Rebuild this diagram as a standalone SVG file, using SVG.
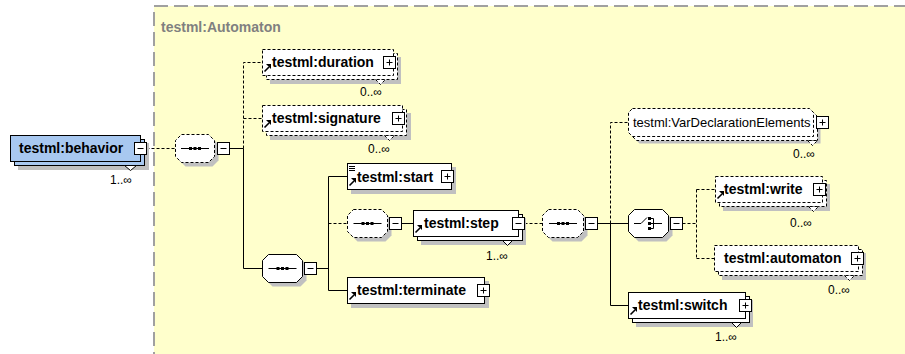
<svg xmlns="http://www.w3.org/2000/svg" xmlns:xlink="http://www.w3.org/1999/xlink" width="905" height="354" viewBox="0 0 905 354">
<style>
.bg{fill:#FFFFCC;stroke:#A0A0A0;stroke-width:2;stroke-dasharray:14,6}
.box{fill:#fff;stroke:#000;stroke-width:1}
.blue{fill:#A8C8F0}
.dash{stroke-dasharray:3,2}
.sh{fill:#C0C0C0;stroke:none}
.lbl{font-family:"Liberation Sans",Arial,sans-serif;font-weight:bold;font-size:14px;fill:#000}
.grp{font-family:"Liberation Sans",Arial,sans-serif;font-size:13px;fill:#000}
.occ{font-family:"Liberation Sans",Arial,sans-serif;font-size:12px;fill:#000}
.ttl{font-family:"Liberation Sans",Arial,sans-serif;font-weight:bold;font-size:14px;fill:#808080}
.pm{fill:none;stroke:#000;stroke-width:1}
.notch{fill:#fff;stroke:#000;stroke-width:1}
.ln{fill:none;stroke:#000;stroke-width:1}
.dl{stroke-dasharray:3,2}
</style>
<defs>
<g id="arr"><path d="M0.5,7.5 L5,3" fill="none" stroke="#000" stroke-width="1.6"/><polygon points="2,0 7,0 7,5" fill="#000"/></g>
<g id="plus"><rect class="box" x="0" y="0" width="12" height="12"/><path class="pm" d="M3,6 H9 M6,3 V9"/></g>
<g id="minus"><rect class="box" x="0" y="0" width="12" height="12"/><path class="pm" d="M3,6 H9"/></g>
<g id="seqicon"><path class="pm" d="M-14,0 H14"/><rect x="-6" y="-1.5" width="3" height="3" fill="#000"/><rect x="-1.5" y="-1.5" width="3" height="3" fill="#000"/><rect x="3" y="-1.5" width="3" height="3" fill="#000"/></g>
</defs>

<rect class="bg" x="154" y="6" width="780" height="380"/>
<text class="ttl" x="161" y="32">testml:Automaton</text>

<g id="connectors">
<path class="ln dl" d="M146.5,148.5 H175.5"/>
<path class="ln" d="M229.5,148.5 H243.5"/>
<path class="ln dl" d="M243.5,148.5 V62.5 H262.5 M243.5,118.5 H262.5"/>
<path class="ln" d="M243.5,148.5 V268.5 H262.5"/>
<path class="ln" d="M316.5,268.5 H328.5 M328.5,176.5 V290.5 M328.5,176.5 H347.5 M328.5,290.5 H347.5"/>
<path class="ln dl" d="M328.5,223.5 H347.5"/>
<path class="ln" d="M401.5,223.5 H413.5"/>
<path class="ln dl" d="M524.5,223.5 H542.5"/>
<path class="ln" d="M597.5,223.5 H628.5 M610.5,223.5 V305.5 H628.5"/>
<path class="ln dl" d="M610.5,223.5 V122.5 H628.5"/>
<path class="ln dl" d="M682.5,223.5 H696.5 M696.5,189.5 V258.5 M696.5,189.5 H715.5 M696.5,258.5 H714.5"/>
</g>

<g id="behavior">
<rect class="sh" x="18" y="143" width="131" height="27"/>
<rect class="box blue" x="14.5" y="139.5" width="130" height="26"/>
<rect class="box blue" x="10.5" y="135.5" width="130" height="26"/>
<polygon class="notch" points="124.5,165.5 130.5,170.5 136.5,165.5"/>
<text class="lbl" x="19" y="153">testml:behavior</text>
<use xlink:href="#minus" x="134.5" y="142.5"/>
<text class="occ" x="110" y="184">1..∞</text>
</g>

<g id="seq1">
<path class="sh" d="M185.5,138.5 H212.5 L218.5,144.5 V160.5 L212.5,166.5 H185.5 L179.5,160.5 V144.5 Z"/>
<path class="box dash" d="M181.5,134.5 H208.5 L214.5,140.5 V156.5 L208.5,162.5 H181.5 L175.5,156.5 V140.5 Z"/>
<use xlink:href="#seqicon" x="195" y="148.5"/>
<use xlink:href="#minus" x="217.5" y="142.5"/>
</g>

<g id="duration">
<rect class="sh" x="270" y="57" width="131" height="27"/>
<rect class="box dash" x="266.5" y="53.5" width="131" height="26"/>
<rect class="box dash" x="262.5" y="49.5" width="131" height="26"/>
<polygon class="notch dash" points="375.5,79.5 380.5,84.5 385.5,79.5"/>
<use xlink:href="#arr" x="264" y="64"/>
<text class="lbl" x="272" y="67">testml:duration</text>
<use xlink:href="#plus" x="383.5" y="56.5"/>
<text class="occ" x="360" y="96">0..∞</text>
</g>

<g id="signature">
<rect class="sh" x="270" y="113" width="141" height="27"/>
<rect class="box dash" x="266.5" y="109.5" width="140" height="26"/>
<rect class="box dash" x="262.5" y="105.5" width="140" height="26"/>
<polygon class="notch dash" points="384.5,135.5 389.5,140.5 394.5,135.5"/>
<use xlink:href="#arr" x="264" y="120"/>
<text class="lbl" x="272" y="123">testml:signature</text>
<use xlink:href="#plus" x="392.5" y="112.5"/>
<text class="occ" x="368" y="153">0..∞</text>
</g>

<g id="seq2">
<path class="sh" d="M272.5,258.5 H300.5 L306.5,264.5 V280.5 L300.5,286.5 H272.5 L266.5,280.5 V264.5 Z"/>
<path class="box" d="M268.5,254.5 H296.5 L302.5,260.5 V276.5 L296.5,282.5 H268.5 L262.5,276.5 V260.5 Z"/>
<use xlink:href="#seqicon" x="282.5" y="268.5"/>
<use xlink:href="#minus" x="304.5" y="262.5"/>
</g>

<g id="start">
<rect class="sh" x="351" y="167" width="105" height="27"/>
<rect class="box" x="347.5" y="163.5" width="104" height="26"/>
<path class="pm" d="M349,166.5 H355 M349,168.5 H355 M349,170.5 H355"/>
<use xlink:href="#arr" x="349" y="178"/>
<text class="lbl" x="357" y="182">testml:start</text>
<use xlink:href="#plus" x="441.5" y="170.5"/>
</g>

<g id="seqStep">
<path class="sh" d="M357.5,213.5 H385.5 L391.5,219.5 V235.5 L385.5,241.5 H357.5 L351.5,235.5 V219.5 Z"/>
<path class="box dash" d="M353.5,209.5 H381.5 L387.5,215.5 V231.5 L381.5,237.5 H353.5 L347.5,231.5 V215.5 Z"/>
<use xlink:href="#seqicon" x="367.5" y="223.5"/>
<use xlink:href="#minus" x="389.5" y="217.5"/>
</g>

<g id="step">
<rect class="sh" x="421" y="218" width="105" height="27"/>
<rect class="box" x="417.5" y="214.5" width="105" height="26"/>
<rect class="box" x="413.5" y="210.5" width="105" height="26"/>
<polygon class="notch" points="502.5,240.5 507.5,245.5 512.5,240.5"/>
<use xlink:href="#arr" x="415" y="225"/>
<text class="lbl" x="424" y="228">testml:step</text>
<use xlink:href="#minus" x="512.5" y="217.5"/>
<text class="occ" x="486" y="260">1..∞</text>
</g>

<g id="terminate">
<rect class="sh" x="351" y="281" width="138" height="27"/>
<rect class="box" x="347.5" y="277.5" width="137" height="26"/>
<use xlink:href="#arr" x="349" y="292"/>
<text class="lbl" x="357" y="295">testml:terminate</text>
<use xlink:href="#plus" x="477.5" y="284.5"/>
</g>

<g id="seq3">
<path class="sh" d="M552.5,213.5 H581.5 L587.5,219.5 V235.5 L581.5,241.5 H552.5 L546.5,235.5 V219.5 Z"/>
<path class="box dash" d="M548.5,209.5 H577.5 L583.5,215.5 V231.5 L577.5,237.5 H548.5 L542.5,231.5 V215.5 Z"/>
<use xlink:href="#seqicon" x="563" y="223.5"/>
<use xlink:href="#minus" x="585.5" y="217.5"/>
</g>

<g id="choice">
<path class="sh" d="M638.5,213.5 H666.5 L672.5,219.5 V235.5 L666.5,241.5 H638.5 L632.5,235.5 V219.5 Z"/>
<path class="box" d="M634.5,209.5 H662.5 L668.5,215.5 V231.5 L662.5,237.5 H634.5 L628.5,231.5 V215.5 Z"/>
<path class="pm" d="M634,223.5 H641 L647,217.5 M650,218.5 H653.5 V228.5 H650 M650,223.5 H662"/>
<rect x="648" y="217" width="3" height="3" fill="#000"/>
<rect x="648" y="222" width="3" height="3" fill="#000"/>
<rect x="648" y="227" width="3" height="3" fill="#000"/>
<use xlink:href="#minus" x="670.5" y="217.5"/>
</g>

<g id="varDeclarationElements">
<path class="sh" d="M639.5,115.5 H816.5 L820.5,119.5 V143.5 H639.5 L635.5,139.5 V119.5 Z"/>
<path class="box dash" d="M636.5,112.5 H813.5 L817.5,116.5 V140.5 H636.5 L632.5,136.5 V116.5 Z"/>
<path class="box dash" d="M632.5,108.5 H809.5 L813.5,112.5 V136.5 H632.5 L628.5,132.5 V112.5 Z"/>
<polygon class="notch dash" points="807.5,140.5 812.5,145.5 817.5,140.5"/>
<text class="grp" x="633" y="127">testml:VarDeclarationElements</text>
<use xlink:href="#plus" x="816.5" y="116.5"/>
<text class="occ" x="793" y="158">0..∞</text>
</g>

<g id="write">
<rect class="sh" x="723" y="184" width="107" height="27"/>
<rect class="box dash" x="719.5" y="180.5" width="107" height="26"/>
<rect class="box dash" x="715.5" y="176.5" width="107" height="26"/>
<polygon class="notch dash" points="808.5,206.5 813.5,211.5 818.5,206.5"/>
<use xlink:href="#arr" x="717" y="191"/>
<text class="lbl" x="724" y="194">testml:write</text>
<use xlink:href="#plus" x="813.5" y="183.5"/>
<text class="occ" x="790" y="227">0..∞</text>
</g>

<g id="automaton">
<rect class="sh" x="722" y="253" width="144" height="27"/>
<rect class="box dash" x="718.5" y="249.5" width="144" height="26"/>
<rect class="box dash" x="714.5" y="245.5" width="144" height="26"/>
<polygon class="notch dash" points="844.5,275.5 849.5,280.5 854.5,275.5"/>
<text class="lbl" x="724" y="263">testml:automaton</text>
<use xlink:href="#plus" x="851.5" y="252.5"/>
<text class="occ" x="828" y="294">0..∞</text>
</g>

<g id="switch">
<rect class="sh" x="636" y="300" width="117" height="27"/>
<rect class="box" x="632.5" y="296.5" width="117" height="26"/>
<rect class="box" x="628.5" y="292.5" width="117" height="26"/>
<polygon class="notch" points="731.5,322.5 736.5,327.5 741.5,322.5"/>
<use xlink:href="#arr" x="630" y="307"/>
<text class="lbl" x="638" y="310">testml:switch</text>
<use xlink:href="#plus" x="739.5" y="299.5"/>
<text class="occ" x="715" y="341">1..∞</text>
</g>
</svg>
